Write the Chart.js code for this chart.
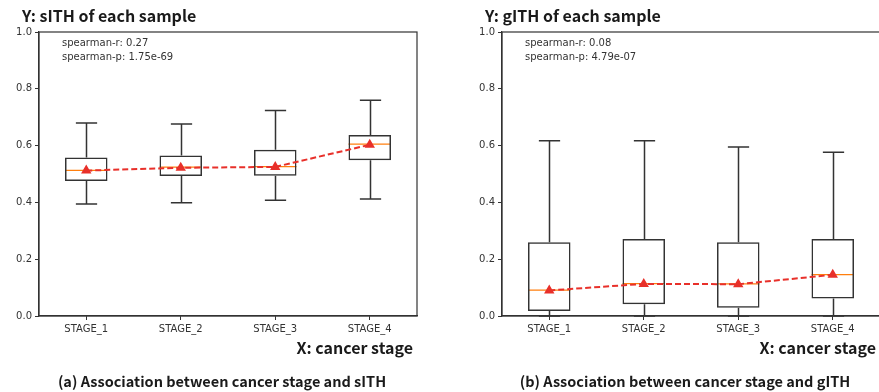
<!DOCTYPE html>
<html>
<head>
<meta charset="utf-8">
<script src="https://cdn.jsdelivr.net/npm/chart.js@4.4.1/dist/chart.umd.min.js"></script>
<style>
  html, body { margin: 0; padding: 0; background: #fff; width: 879px; height: 392px; overflow: hidden; }
  .wrap { position: absolute; top: 0; width: 440px; height: 392px; }
  .txt { position: absolute; white-space: nowrap; color: #1a1a1a; }
  .ttl { font-family: "Noto Sans CJK KR", "Open Sans", sans-serif; font-weight: bold; font-size: 16px; }
  .cap { font-family: "Noto Sans CJK KR", "Open Sans", sans-serif; font-weight: bold; font-size: 14.5px; }
  .stat { font-family: "DejaVu Sans", sans-serif; font-size: 10px; color: #333; line-height: 14px; }
</style>
</head>
<body>
<div class="wrap" id="wrapA" style="left:0">
  <canvas id="chartA" width="440" height="392"></canvas>
</div>
<div class="wrap" id="wrapB" style="left:463px">
  <canvas id="chartB" width="440" height="392"></canvas>
</div>

<div class="txt ttl" style="left:22px; top:3px;">Y: sITH of each sample</div>
<div class="txt ttl" style="left:485px; top:3px;">Y: gITH of each sample</div>
<div class="txt stat" style="left:62px; top:36px;">spearman-r: 0.27<br>spearman-p: 1.75e-69</div>
<div class="txt stat" style="left:525px; top:36px;">spearman-r: 0.08<br>spearman-p: 4.79e-07</div>
<div class="txt ttl" style="right:466px; top:335px;">X: cancer stage</div>
<div class="txt ttl" style="right:3px; top:335px;">X: cancer stage</div>
<div class="txt cap" style="left:222px; top:370px; transform:translateX(-50%);">(a) Association between cancer stage and sITH</div>
<div class="txt cap" style="left:685px; top:370px; transform:translateX(-50%);">(b) Association between cancer stage and gITH</div>

<script>
document.addEventListener('DOMContentLoaded', function() {
    // Categorías
    const stages = ['STAGE_1', 'STAGE_2', 'STAGE_3', 'STAGE_4'];
    const yTicks = [0, 0.2, 0.4, 0.6, 0.8, 1.0];

    // sITH (panel a)
    const sLow    = [0.394, 0.399, 0.408, 0.412];
    const sQ1     = [0.475, 0.493, 0.494, 0.548];
    const sMedian = [0.513, 0.524, 0.526, 0.605];
    const sQ3     = [0.558, 0.565, 0.585, 0.637];
    const sHigh   = [0.680, 0.676, 0.724, 0.760];
    const sMean   = [0.512, 0.522, 0.525, 0.603];

    // gITH (panel b)
    const gLow    = [0.0, 0.0, 0.0, 0.0];
    const gQ1     = [0.018, 0.041, 0.029, 0.062];
    const gMedian = [0.091, 0.114, 0.113, 0.146];
    const gQ3     = [0.260, 0.271, 0.260, 0.271];
    const gHigh   = [0.617, 0.617, 0.595, 0.577];
    const gMean   = [0.090, 0.113, 0.112, 0.145];

    const lineColor = '#333333';

    // Plugin: bigotes, medianas y marco
    const boxPlugin = {
        id: 'boxExtras',
        beforeDatasetsDraw(chart) {
            const st = chart.options.plugins.boxExtras;
            const x = chart.scales.x, y = chart.scales.y;
            const ctx = chart.ctx;
            const band = x.getPixelForValue(1) - x.getPixelForValue(0);
            const capW = band * 0.45 * 0.5;
            const boxW = band * 0.45;
            ctx.save();
            ctx.lineWidth = 1.5;
            ctx.strokeStyle = lineColor;
            st.low.forEach((lo, i) => {
                const cx = Math.round(x.getPixelForValue(i)) + 0.5;
                ctx.beginPath();
                ctx.moveTo(cx, y.getPixelForValue(st.q3[i]));
                ctx.lineTo(cx, y.getPixelForValue(st.high[i]));
                ctx.moveTo(cx, y.getPixelForValue(st.q1[i]));
                ctx.lineTo(cx, y.getPixelForValue(lo));
                ctx.moveTo(cx - capW / 2, y.getPixelForValue(st.high[i]));
                ctx.lineTo(cx + capW / 2, y.getPixelForValue(st.high[i]));
                ctx.moveTo(cx - capW / 2, y.getPixelForValue(lo));
                ctx.lineTo(cx + capW / 2, y.getPixelForValue(lo));
                ctx.stroke();
            });
            ctx.strokeStyle = '#ff7f0e';
            ctx.lineWidth = 1.2;
            st.median.forEach((m, i) => {
                const cx = x.getPixelForValue(i);
                ctx.beginPath();
                ctx.moveTo(cx - boxW / 2, y.getPixelForValue(m));
                ctx.lineTo(cx + boxW / 2, y.getPixelForValue(m));
                ctx.stroke();
            });
            ctx.restore();
        },
        afterDraw(chart) {
            const a = chart.chartArea;
            const ctx = chart.ctx;
            ctx.save();
            ctx.strokeStyle = lineColor;
            ctx.lineWidth = 1.2;
            ctx.strokeRect(a.left, a.top, a.right - a.left, a.bottom - a.top);
            ctx.restore();
        }
    };

    function crearGrafico(id, low, q1, median, q3, high, mean) {
        const ctx = document.getElementById(id).getContext('2d');
        return new Chart(ctx, {
            data: {
                labels: stages,
                datasets: [
                    {
                        type: 'line',
                        data: mean,
                        borderColor: '#e8302a',
                        borderDash: [6, 3],
                        borderWidth: 2,
                        pointStyle: 'triangle',
                        pointRadius: 4,
                        pointBackgroundColor: '#e8302a',
                        pointBorderColor: '#e8302a',
                        order: 1
                    },
                    {
                        type: 'bar',
                        data: q1.map((v, i) => [v, q3[i]]),
                        backgroundColor: 'rgba(0,0,0,0)',
                        borderColor: lineColor,
                        borderWidth: 1.5,
                        borderSkipped: false,
                        barPercentage: 0.45,
                        categoryPercentage: 1.0,
                        order: 2
                    }
                ]
            },
            options: {
                responsive: false,
                animation: false,
                layout: { padding: { left: 0, right: 23, top: 32, bottom: 0 } },
                plugins: {
                    legend: { display: false },
                    tooltip: { enabled: false },
                    boxExtras: { low, q1, median, q3, high }
                },
                scales: {
                    x: {
                        type: 'category',
                        offset: true,
                        grid: { display: true, drawOnChartArea: false, drawTicks: true, tickLength: 4, color: lineColor, offset: false },
                        border: { display: true, color: lineColor, width: 1.2 },
                        ticks: { color: '#333', font: { family: 'DejaVu Sans', size: 10 }, padding: 3, maxRotation: 0 },
                        afterFit: (s) => { s.height = 76; }
                    },
                    y: {
                        min: 0, max: 1,
                        afterBuildTicks: (s) => { s.ticks = yTicks.map(v => ({ value: v })); },
                        grid: { display: true, drawOnChartArea: false, drawTicks: true, tickLength: 4, color: lineColor },
                        border: { display: true, color: lineColor, width: 1.2 },
                        ticks: { color: '#333', font: { family: 'DejaVu Sans', size: 10 }, padding: 3, callback: (v) => Number(v).toFixed(1) },
                        afterFit: (s) => { s.width = 39; }
                    }
                }
            },
            plugins: [boxPlugin]
        });
    }

    crearGrafico('chartA', sLow, sQ1, sMedian, sQ3, sHigh, sMean);
    crearGrafico('chartB', gLow, gQ1, gMedian, gQ3, gHigh, gMean);
});
</script>
</body>
</html>
